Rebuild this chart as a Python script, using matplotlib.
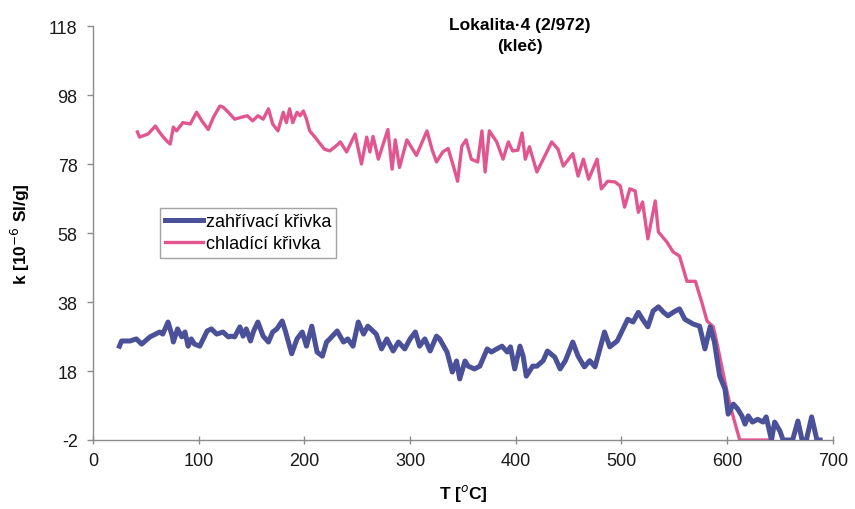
"""Magnetic susceptibility vs temperature (heating / cooling curve), Lokalita 4."""

from __future__ import annotations

import matplotlib

matplotlib.use("Agg")
import matplotlib.pyplot as plt


OUTPUT_FILE = "out.png"

TITLE = "Lokalita·4 (2/972)\n(kleč)"
X_LABEL = "T [$^{o}$C]"
Y_LABEL = "k [10$^{-6}$ SI/g]"
HEATING_LABEL = "zahřívací křivka"
COOLING_LABEL = "chladící křivka"

X_TICKS = [0, 100, 200, 300, 400, 500, 600, 700]
Y_TICKS = [-2, 18, 38, 58, 78, 98, 118]

# heating curve (zahřívací)
heating_t = [
    25, 27, 35, 41, 46, 54, 63, 66, 71, 75, 76, 80, 84, 87, 90, 93, 96, 101,
    108, 112, 117, 123, 128, 131, 134, 139, 142, 145, 149, 152, 156, 161, 166,
    170, 174, 179, 182, 188, 193, 198, 202, 207, 212, 217, 221, 224, 231, 237,
    241, 246, 251, 256, 260, 268, 273, 278, 284, 289, 295, 300, 305, 309, 314,
    319, 325, 328, 335, 340, 344, 347, 352, 355, 361, 366, 373, 377, 382, 387,
    392, 395, 399, 404, 407, 410, 416, 420, 426, 430, 437, 442, 447, 454, 459,
    465, 470, 475, 484, 489, 496, 506, 511, 516, 520, 525, 530, 535, 540, 544,
    551, 555, 560, 568, 574, 579, 584, 588, 593, 598, 601, 606, 610, 614, 617,
    620, 624, 629, 634, 637, 642, 645, 650, 653, 662, 667, 671, 675, 680, 685,
    688,
]
heating_k = [
    25.2, 26.7, 26.7, 27.3, 25.8, 27.9, 29.3, 28.7, 32.2, 28.1, 26.4, 30.2,
    27.9, 29.3, 25.2, 27.3, 25.8, 25.2, 29.6, 30.2, 28.7, 29.3, 27.9, 28.1,
    27.9, 30.8, 28.1, 30.2, 26.7, 29.6, 32.2, 28.1, 26.4, 29.3, 30.2, 32.5,
    29.6, 23.0, 27.3, 29.3, 25.2, 31.0, 23.5, 22.3, 26.4, 27.3, 29.6, 26.4,
    27.3, 25.2, 32.2, 28.7, 31.0, 28.7, 24.4, 27.3, 23.8, 26.4, 24.4, 27.3,
    29.3, 25.2, 27.3, 23.8, 28.1, 27.3, 23.5, 17.7, 20.9, 15.7, 20.9, 19.4,
    18.6, 19.4, 24.4, 23.5, 24.4, 25.2, 23.5, 25.0, 18.6, 25.2, 22.3, 16.5,
    19.4, 19.4, 21.0, 23.8, 22.0, 18.6, 21.0, 26.4, 22.3, 19.2, 21.0, 19.2,
    29.3, 25.0, 26.7, 33.0, 32.2, 35.0, 33.0, 30.8, 35.4, 36.6, 35.0, 34.0,
    35.4, 36.0, 33.0, 31.6, 31.0, 24.4, 30.8, 26.4, 16.5, 12.8, 5.5, 8.4,
    7.0, 5.0, 2.6, 5.0, 3.2, 4.0, 3.2, 4.7, -2.0, 3.2, 0.6, -2.0, -2.0, 3.5,
    -2.0, -2.0, 4.7, -2.0, -2.0,
]

# cooling curve (chladící)
cooling_t = [
    42, 44, 52, 59, 62, 66, 70, 73, 76, 79, 85, 92, 98, 103, 109, 114, 120,
    123, 128, 134, 141, 146, 151, 156, 161, 166, 170, 175, 180, 183, 186, 189,
    193, 196, 199, 202, 205, 210, 215, 219, 224, 231, 234, 240, 248, 254, 259,
    262, 265, 270, 279, 283, 286, 290, 297, 306, 316, 321, 325, 331, 336, 341,
    345, 349, 353, 358, 364, 368, 371, 375, 382, 388, 393, 397, 402, 406, 409,
    413, 420, 426, 434, 440, 445, 450, 454, 459, 464, 469, 473, 477, 481, 487,
    494, 499, 503, 508, 513, 516, 520, 525, 532, 535, 543, 549, 555, 562, 570,
    576, 581, 587, 591, 598, 603, 609, 612, 621, 633, 640,
]
cooling_k = [
    87.3, 85.8, 86.7, 89.0, 87.6, 86.0, 84.6, 83.8, 88.7, 87.6, 90.0, 89.6,
    93.0, 90.5, 88.0, 91.6, 94.8, 94.5, 93.0, 91.0, 91.6, 92.0, 90.5, 92.0,
    91.0, 94.0, 89.6, 87.6, 93.0, 90.0, 94.0, 90.0, 93.0, 92.0, 93.4, 91.0,
    87.6, 85.8, 83.8, 82.3, 81.8, 83.5, 84.4, 81.5, 86.7, 78.0, 85.8, 81.5,
    86.0, 79.4, 88.0, 76.5, 85.0, 77.0, 85.0, 80.5, 87.6, 82.0, 78.6, 81.5,
    82.5, 77.4, 73.0, 83.2, 85.0, 79.4, 78.6, 87.6, 75.7, 87.6, 84.4, 79.4,
    84.4, 81.8, 82.0, 87.0, 79.4, 83.0, 75.7, 79.4, 84.4, 82.3, 77.4, 79.4,
    81.0, 74.5, 79.4, 73.6, 76.5, 79.4, 70.8, 73.0, 72.8, 71.6, 65.5, 70.8,
    70.2, 64.0, 67.0, 56.3, 67.3, 58.3, 55.4, 52.5, 51.3, 44.0, 44.0, 38.0,
    32.5, 30.8, 25.2, 14.8, 7.9, 1.2, -2.0, -2.0, -2.0, -2.0,
]

HEATING_COLOR = "#4a5198"
COOLING_COLOR = "#e2568f"
AXIS_COLOR = "#8c8c8c"


def draw_chart(output_path: str = OUTPUT_FILE) -> None:
    """Draw both susceptibility curves and save the figure."""
    plt.rcParams["font.family"] = ["Liberation Sans", "DejaVu Sans"]
    plt.rcParams["axes.unicode_minus"] = False

    fig = plt.figure(figsize=(8.55, 5.10), dpi=100)
    ax = fig.add_axes([0.1088, 0.1353, 0.8652, 0.8117])

    ax.plot(heating_t, heating_k, color=HEATING_COLOR, lw=3.6,
            solid_joinstyle="round", label=HEATING_LABEL, zorder=3)
    ax.plot(cooling_t, cooling_k, color=COOLING_COLOR, lw=2.4,
            solid_joinstyle="round", label=COOLING_LABEL, zorder=2)

    ax.set_xlim(0, 700)
    ax.set_ylim(-2, 118)
    ax.set_xticks(X_TICKS)
    ax.set_yticks(Y_TICKS)

    for side in ("top", "right"):
        ax.spines[side].set_visible(False)
    for side in ("left", "bottom"):
        ax.spines[side].set_color(AXIS_COLOR)
        ax.spines[side].set_linewidth(1.0)

    ax.tick_params(axis="both", colors=AXIS_COLOR, labelcolor="#1a1a1a",
                   labelsize=13, length=4, width=1.0)
    ax.tick_params(axis="x", direction="inout", length=6, pad=6)
    ax.tick_params(axis="y", pad=7)

    ax.set_xlabel(X_LABEL, fontsize=12.5, fontweight="bold", labelpad=9)
    ax.set_ylabel(Y_LABEL, fontsize=12.5, fontweight="bold", labelpad=12)

    fig.text(0.608, 0.965, TITLE, ha="center", va="top", fontsize=12.5,
             fontweight="bold", linespacing=1.5)

    legend = ax.legend(loc="lower left", bbox_to_anchor=(0.09, 0.44),
                       borderaxespad=0, fontsize=13, handlelength=2.1,
                       handletextpad=0.15, borderpad=0.3, labelspacing=0.3,
                       fancybox=False, frameon=True)
    legend.get_frame().set_edgecolor(AXIS_COLOR)
    legend.get_frame().set_linewidth(1.0)

    fig.savefig(output_path, dpi=100)
    plt.close(fig)


if __name__ == "__main__":
    draw_chart()
